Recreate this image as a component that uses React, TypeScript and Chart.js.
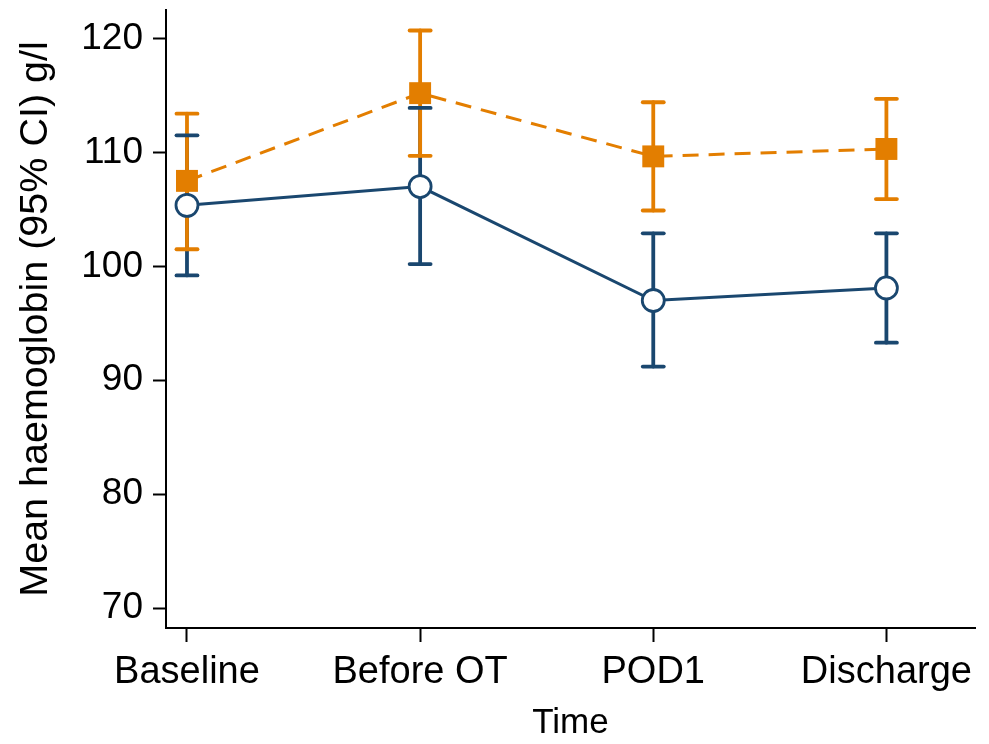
import React, { useEffect, useRef } from "react";
import { Chart, registerables } from "chart.js";

Chart.register(...registerables);

const categories = ["Baseline", "Before OT", "POD1", "Discharge"];
const yTicks = [70, 80, 90, 100, 110, 120];

const blueMean = [105.35, 107.0, 97.0, 98.1];
const blueLower = [99.2, 100.2, 91.2, 93.3];
const blueUpper = [111.5, 113.9, 102.9, 102.9];

const orangeMean = [107.5, 115.2, 109.65, 110.3];
const orangeLower = [101.5, 109.7, 104.9, 105.9];
const orangeUpper = [113.4, 120.7, 114.4, 114.7];

const BLUE = "#1a476f";
const ORANGE = "#e37e00";
const FONT = "'Liberation Sans', Arial, Helvetica, sans-serif";

const errorBarPlugin = {
  id: "errorBars",
  beforeDatasetsDraw(chart: any) {
    const { ctx, scales } = chart;
    const xs = scales.x;
    const ys = scales.y;
    const sets = [
      { lo: blueLower, hi: blueUpper, color: BLUE },
      { lo: orangeLower, hi: orangeUpper, color: ORANGE },
    ];
    ctx.save();
    ctx.lineWidth = 3.8;
    ctx.lineCap = "round";
    sets.forEach((s) => {
      ctx.strokeStyle = s.color;
      s.lo.forEach((lo, i) => {
        const x = xs.getPixelForValue(i);
        ctx.beginPath();
        ctx.moveTo(x, ys.getPixelForValue(lo));
        ctx.lineTo(x, ys.getPixelForValue(s.hi[i]));
        ctx.stroke();
      });
    });
    const half = 10.5;
    sets.forEach((s) => {
      ctx.strokeStyle = s.color;
      s.lo.forEach((lo, i) => {
        const x = xs.getPixelForValue(i);
        [lo, s.hi[i]].forEach((v) => {
          const y = ys.getPixelForValue(v);
          ctx.beginPath();
          ctx.moveTo(x - half, y);
          ctx.lineTo(x + half, y);
          ctx.stroke();
        });
      });
    });
    ctx.restore();
  },
};

export default function App() {
  const ref = useRef<HTMLCanvasElement>(null);
  useEffect(() => {
    if (!ref.current) return;
    const chart = new Chart(ref.current, {
      type: "line",
      data: {
        datasets: [
          {
            label: "Group A",
            data: blueMean.map((v, i) => ({ x: i, y: v })),
            borderColor: BLUE,
            borderWidth: 3,
            pointStyle: "circle",
            pointRadius: 11,
            pointBorderWidth: 2.8,
            pointBackgroundColor: "#ffffff",
            pointBorderColor: BLUE,
            tension: 0,
          },
          {
            label: "Group B",
            data: orangeMean.map((v, i) => ({ x: i, y: v })),
            borderColor: ORANGE,
            borderWidth: 3,
            borderDash: [16, 10],
            pointStyle: "rect",
            pointRadius: 15.5,
            pointBorderWidth: 0,
            pointBackgroundColor: ORANGE,
            pointBorderColor: ORANGE,
            tension: 0,
          },
        ],
      },
      options: {
        responsive: false,
        animation: false,
        layout: { autoPadding: false, padding: { top: 10, right: 14, left: 0, bottom: 0 } },
        plugins: { legend: { display: false }, tooltip: { enabled: false } },
        scales: {
          x: {
            type: "linear",
            min: -0.09,
            max: 3.38,
            afterBuildTicks: (s: any) => {
              s.ticks = categories.map((_, i) => ({ value: i }));
            },
            afterFit: (s: any) => {
              s.height = 116;
              s.paddingLeft = 0;
              s.paddingRight = 0;
            },
            grid: {
              drawOnChartArea: false,
              drawTicks: true,
              tickLength: 14,
              tickColor: "#000",
              tickWidth: 2,
            },
            border: { display: true, color: "#000", width: 2 },
            ticks: {
              color: "#000",
              padding: 8,
              font: { family: FONT, size: 38 },
              callback: (v: any) => categories[Math.round(Number(v))] ?? "",
              maxRotation: 0,
              autoSkip: false,
            },
            title: {
              display: true,
              text: "Time",
              color: "#000",
              font: { family: FONT, size: 35 },
              padding: { top: 0, bottom: 0 },
            },
          },
          y: {
            type: "linear",
            min: 68.25,
            max: 122.5,
            afterBuildTicks: (s: any) => {
              s.ticks = yTicks.map((v) => ({ value: v }));
            },
            afterFit: (s: any) => {
              s.width = 166;
              s.paddingTop = 0;
              s.paddingBottom = 0;
            },
            grid: {
              drawOnChartArea: false,
              drawTicks: true,
              tickLength: 13,
              tickColor: "#000",
              tickWidth: 2,
            },
            border: { display: true, color: "#000", width: 2 },
            ticks: {
              color: "#000",
              padding: 10,
              font: { family: FONT, size: 37 },
            },
            title: {
              display: true,
              text: "Mean haemoglobin (95% CI) g/l",
              color: "#000",
              font: { family: FONT, size: 39.5 },
              padding: { top: 12, bottom: 0 },
            },
          },
        },
      },
      plugins: [errorBarPlugin],
    });
    return () => chart.destroy();
  }, []);
  return (
    <div style={{ position: "fixed", left: 0, top: 0, width: 989, height: 744, background: "#fff" }}>
      <canvas ref={ref} width={989} height={744} style={{ display: "block" }} />
    </div>
  );
}
